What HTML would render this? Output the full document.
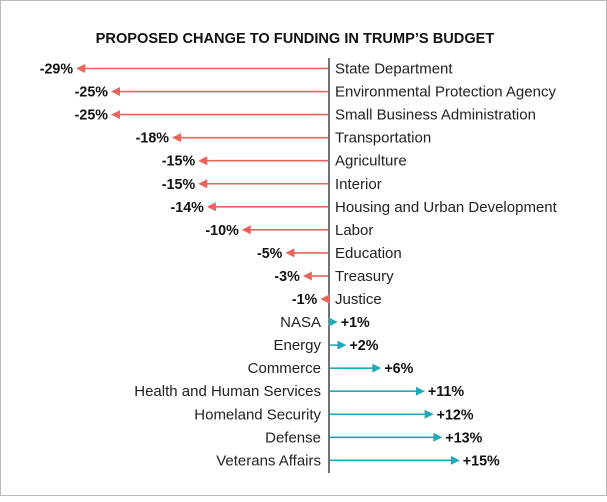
<!DOCTYPE html>
<html><head><meta charset="utf-8"><style>
body{margin:0;background:#fff}
#c{position:absolute;left:0;top:0;width:607px;height:496px;box-sizing:border-box;border:1px solid #bbb;background:#fff}
</style></head><body>
<div id="c">
<svg id="s" width="607" height="496" font-family="Liberation Sans, sans-serif"></svg>
</div>
<script>
const categories=["State Department","Environmental Protection Agency","Small Business Administration","Transportation","Agriculture","Interior","Housing and Urban Development","Labor","Education","Treasury","Justice","NASA","Energy","Commerce","Health and Human Services","Homeland Security","Defense","Veterans Affairs"];
const changes=[-29,-25,-25,-18,-15,-15,-14,-10,-5,-3,-1,1,2,6,11,12,13,15];
const NS="http://www.w3.org/2000/svg";
const s=document.getElementById('s');
const x0=328,k=8.72,y0=67.5,dy=23.05;
const xs=v=>x0+v*k, ys=i=>y0+i*dy;
function el(t,a){const e=document.createElementNS(NS,t);for(const n in a)e.setAttribute(n,a[n]);s.appendChild(e);return e;}
const title=el('text',{x:294,y:42,'text-anchor':'middle','font-size':14.6,'font-weight':'bold',fill:'#111'});
title.textContent="PROPOSED CHANGE TO FUNDING IN TRUMP\u2019S BUDGET";


const ax=el('line',{x1:x0,y1:57,x2:x0,y2:472,stroke:'#444','stroke-width':1.5});


categories.forEach((c,i)=>{
  const v=changes[i],y=ys(i),neg=v<0,col=neg?'#e8645c':'#22a9b9';
  const tip=xs(v),dir=neg?-1:1;
  const g=document.createElementNS(NS,'g');s.appendChild(g);
  
  
  const base=x0+dir*1;
  const hb=tip-dir*8;
  if(Math.abs(hb-base)>0){const l=document.createElementNS(NS,'line');l.setAttribute('x1',base);l.setAttribute('x2',hb);l.setAttribute('y1',y);l.setAttribute('y2',y);l.setAttribute('stroke',col);l.setAttribute('stroke-width',1.6);g.appendChild(l);}
  const p=document.createElementNS(NS,'polygon');
  p.setAttribute('points',`${tip},${y} ${tip-dir*9},${y-4.5} ${tip-dir*9},${y+4.5}`);
  p.setAttribute('fill',col);g.appendChild(p);
  const lab=el('text',{x:neg?x0+6:x0-8,y:y+5,'text-anchor':neg?'start':'end','font-size':15,fill:'#222'});
  lab.textContent=c;
  
  
  const vl=el('text',{x:neg?tip-3:tip+3,y:y+5,'text-anchor':neg?'end':'start','font-size':14.3,'font-weight':'bold',fill:'#111'});
  vl.textContent=(v>0?'+':'')+v+'%';
  
  
});
</script>
</body></html>
